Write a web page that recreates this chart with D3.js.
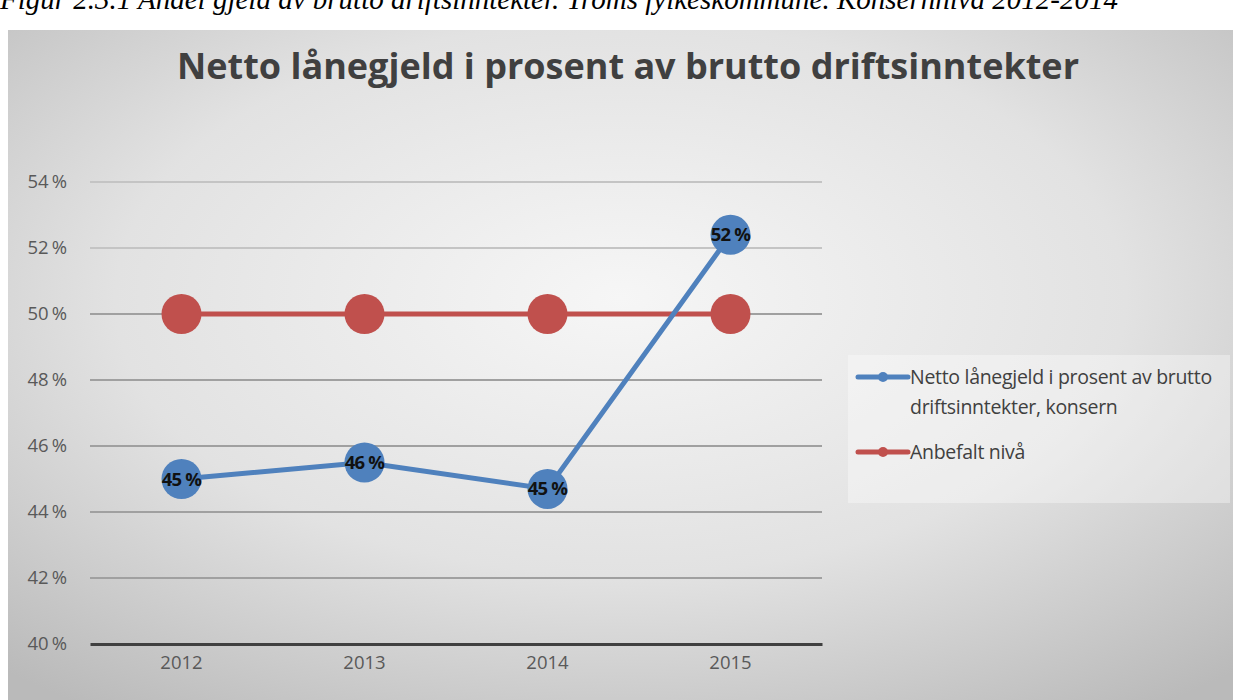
<!DOCTYPE html>
<html>
<head>
<meta charset="utf-8">
<script src="https://cdn.jsdelivr.net/npm/d3@7"></script>
<style>
  html, body { margin: 0; padding: 0; background: #fff; }
  svg { display: block; }
</style>
</head>
<body>
<svg id="chart" width="1233" height="700"></svg>
<script>
// data
const years = ['2012', '2013', '2014', '2015'];
const nettoGjeld = [45.0, 45.5, 44.7, 52.4];
const anbefalt = [50, 50, 50, 50];
const gjeldLabels = ['45 %', '46 %', '45 %', '52 %'];
const yTicks = [40, 42, 44, 46, 48, 50, 52, 54];
const seriesNames = ['Netto lånegjeld i prosent av brutto driftsinntekter, konsern', 'Anbefalt nivå'];

const width = 1233;
const height = 700;
const margin = { top: 182, right: 411, bottom: 56, left: 90 };
const blue = '#4f81bd';
const red = '#c0504d';

const svg = d3.select('#chart');

// background gradient
const defs = svg.append('defs');
const grad = defs.append('radialGradient')
  .attr('id', 'bg')
  .attr('cx', '50%').attr('cy', '40%').attr('r', '75%');
grad.append('stop').attr('offset', '0%').attr('stop-color', '#f6f6f6');
grad.append('stop').attr('offset', '55%').attr('stop-color', '#e2e2e2');
grad.append('stop').attr('offset', '100%').attr('stop-color', '#bababa');

svg.append('rect')
  .attr('x', 8).attr('y', 30)
  .attr('width', width - 8).attr('height', height - 30)
  .attr('fill', 'url(#bg)');

// caption, cut off at the top like in the source
svg.append('text')
  .attr('x', 0).attr('y', 9)
  .attr('font-family', 'Liberation Serif, serif')
  .attr('font-style', 'italic')
  .attr('font-size', 29)
  .attr('fill', '#000')
  .text('Figur 2.3.1 Andel gjeld av brutto driftsinntekter. Troms fylkeskommune. Konsernnivå 2012-2014');

// title
svg.append('text')
  .attr('x', 628).attr('y', 79)
  .attr('text-anchor', 'middle')
  .attr('font-family', 'Open Sans, sans-serif')
  .attr('font-weight', 'bold')
  .attr('font-size', 36)
  .attr('fill', '#404040')
  .text('Netto lånegjeld i prosent av brutto driftsinntekter');

const x = d3.scaleBand()
  .domain(years)
  .range([margin.left, width - margin.right]);

const y = d3.scaleLinear()
  .domain([40, 54])
  .range([height - margin.bottom, margin.top]);

const font = 'Open Sans, sans-serif';

// gridlines
svg.append('g')
  .selectAll('line')
  .data(yTicks.filter(d => d > 40))
  .join('line')
  .attr('x1', margin.left).attr('x2', width - margin.right)
  .attr('y1', d => y(d)).attr('y2', d => y(d))
  .attr('stroke', d => d >= 52 ? '#c4c4c4' : '#a0a0a0')
  .attr('stroke-width', 2);

// y axis
const yAxis = svg.append('g')
  .attr('transform', `translate(${margin.left - 20},0)`)
  .call(d3.axisLeft(y).tickValues(yTicks).tickSize(0).tickFormat(d => d + '\u2009%'));
yAxis.select('.domain').remove();
yAxis.selectAll('text')
  .attr('font-family', font)
  .attr('font-size', 18.5)
  .attr('fill', '#595959');

// x axis
const xAxis = svg.append('g')
  .attr('transform', `translate(0,${y(40)})`)
  .call(d3.axisBottom(x).tickSize(0).tickPadding(12));
xAxis.select('.domain')
  .attr('stroke', '#404040')
  .attr('stroke-width', 3);
xAxis.selectAll('text')
  .attr('font-family', font)
  .attr('font-size', 18.5)
  .attr('fill', '#595959');

const line = d3.line()
  .x((d, i) => x(years[i]) + x.bandwidth() / 2)
  .y(d => y(d));

// recommended level
svg.append('path')
  .datum(anbefalt)
  .attr('fill', 'none')
  .attr('stroke', red)
  .attr('stroke-width', 5)
  .attr('d', line);
svg.append('g')
  .selectAll('circle')
  .data(anbefalt)
  .join('circle')
  .attr('cx', (d, i) => x(years[i]) + x.bandwidth() / 2)
  .attr('cy', d => y(d))
  .attr('r', 20)
  .attr('fill', red);

// netto gjeld
svg.append('path')
  .datum(nettoGjeld)
  .attr('fill', 'none')
  .attr('stroke', blue)
  .attr('stroke-width', 5)
  .attr('d', line);
svg.append('g')
  .selectAll('circle')
  .data(nettoGjeld)
  .join('circle')
  .attr('cx', (d, i) => x(years[i]) + x.bandwidth() / 2)
  .attr('cy', d => y(d))
  .attr('r', 20)
  .attr('fill', blue);

svg.append('g')
  .selectAll('text')
  .data(nettoGjeld)
  .join('text')
  .attr('x', (d, i) => x(years[i]) + x.bandwidth() / 2)
  .attr('y', d => y(d) + 6.5)
  .attr('text-anchor', 'middle')
  .attr('font-family', font)
  .attr('font-weight', 'bold')
  .attr('font-size', 18.5)
  .attr('letter-spacing', -0.8)
  .attr('fill', '#111')
  .text((d, i) => gjeldLabels[i]);

// legend
const legend = svg.append('g');
legend.append('rect')
  .attr('x', 848).attr('y', 355)
  .attr('width', 382).attr('height', 148)
  .attr('fill', '#ffffff').attr('fill-opacity', 0.35);

const legendItems = [
  { color: blue, lines: ['Netto lånegjeld i prosent av brutto', 'driftsinntekter, konsern'], y: 377 },
  { color: red, lines: [seriesNames[1]], y: 452 }
];
legendItems.forEach(it => {
  legend.append('line')
    .attr('x1', 858).attr('x2', 908)
    .attr('y1', it.y).attr('y2', it.y)
    .attr('stroke', it.color).attr('stroke-width', 5)
    .attr('stroke-linecap', 'round');
  legend.append('circle')
    .attr('cx', 883).attr('cy', it.y).attr('r', 5)
    .attr('fill', it.color);
  const t = legend.append('text')
    .attr('x', 910).attr('y', it.y + 7)
    .attr('font-family', font)
    .attr('font-size', 19.5)
    .attr('letter-spacing', -0.3)
    .attr('fill', '#404040');
  it.lines.forEach((l, i) => {
    t.append('tspan').attr('x', 910).attr('dy', i === 0 ? 0 : 30).text(l);
  });
});
</script>
</body>
</html>
